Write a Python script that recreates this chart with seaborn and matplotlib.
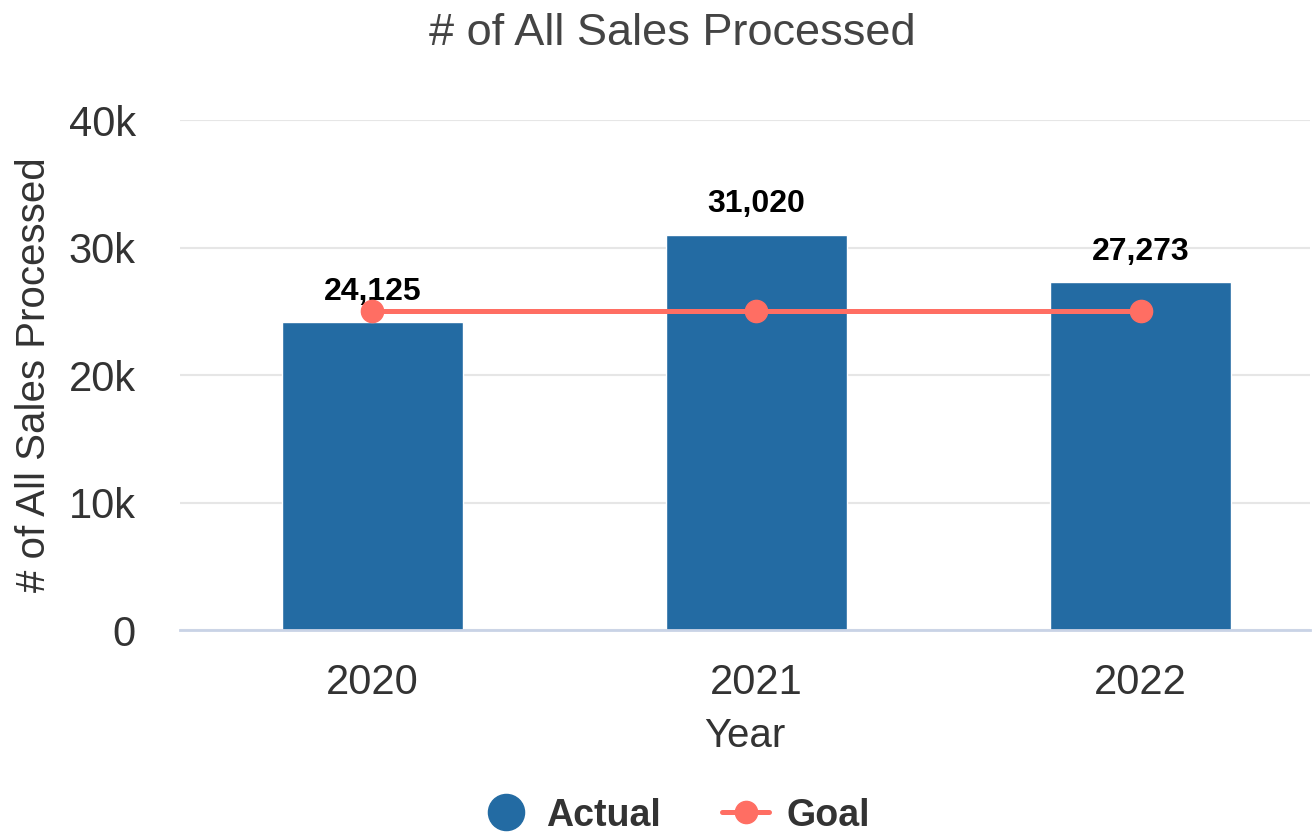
import pandas as pd
import matplotlib.pyplot as plt
import seaborn as sns
from matplotlib.lines import Line2D

sns.set_theme(style="white")
plt.rcParams['font.family'] = ['Liberation Sans', 'DejaVu Sans']

years = ["2020", "2021", "2022"]
actual = [24125, 31020, 27273]
goal = [25000, 25000, 25000]

bar_color = "#236ba3"
goal_color = "#ff6e63"
text_color = "#333333"

df = pd.DataFrame({"Year": years, "Actual": actual, "Goal": goal})

fig = plt.figure(figsize=(13.15, 8.34), dpi=100)
ax = fig.add_axes([0.137, 0.2446, 0.859, 0.6115])

sns.barplot(data=df, x="Year", y="Actual", color=bar_color, width=0.47,
            saturation=1, ax=ax, zorder=2)
ax.plot(range(len(years)), df["Goal"], color=goal_color, lw=3.6,
        marker="o", markersize=16, zorder=4, clip_on=False)

for i, v in enumerate(actual):
    ax.annotate(f"{v:,}", (i, v), xytext=(0, 22), textcoords="offset points",
                ha="center", va="center", fontsize=23, fontweight="bold",
                color="black", zorder=3)

ax.set_ylim(0, 40000)
ax.set_xlim(-0.5, 2.44)
ax.set_yticks([0, 10000, 20000, 30000, 40000])
ax.set_yticklabels(["0", "10k", "20k", "30k", "40k"])
ax.yaxis.grid(True, color="#e6e6e6", lw=1.5, zorder=0)
ax.set_axisbelow(True)
for s in ["top", "right", "left"]:
    ax.spines[s].set_visible(False)
ax.spines["bottom"].set_color("#c9d3e6")
ax.spines["bottom"].set_linewidth(2)
ax.tick_params(axis="both", length=0, labelsize=30, colors=text_color)
ax.tick_params(axis="x", pad=24)
ax.tick_params(axis="y", pad=32)

ax.set_xlabel("Year", fontsize=29, color=text_color, labelpad=10)
ax.set_ylabel("# of All Sales Processed", fontsize=29, color=text_color, labelpad=11)
fig.suptitle("# of All Sales Processed", fontsize=32.5, color="#444444", x=0.511, y=0.984)

handles = [
    Line2D([], [], color=bar_color, marker="o", linestyle="none", markersize=26),
    Line2D([], [], color=goal_color, marker="o", lw=3.6, markersize=16),
]
leg = fig.legend(handles, ["Actual", "Goal"], loc="lower center", ncol=2,
                 bbox_to_anchor=(0.514, -0.04), frameon=False, handlelength=1.25,
                 columnspacing=1.65, handletextpad=0.45,
                 prop={"size": 27, "weight": "bold"})
for t in leg.get_texts():
    t.set_color(text_color)

fig.savefig("out.png", dpi=100)
